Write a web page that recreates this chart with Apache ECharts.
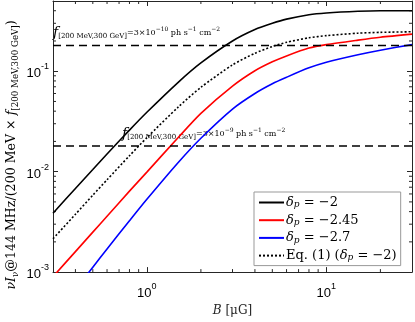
<!DOCTYPE html>
<html lang="en">
<head>
<meta charset="UTF-8">
<title>B field scan</title>
<script src="https://cdn.jsdelivr.net/npm/echarts@6/dist/echarts.min.js"></script>
<style>html,body{margin:0;padding:0;background:#fff}</style>
</head>
<body>
<div id="box" style="width:415px;height:322px"></div>
<script>
// magnetic field samples (muG)
var bField = [0.3, 0.4, 0.5, 0.6, 0.8, 1, 1.5, 2, 3, 4, 5, 6, 8, 10, 15, 20, 30];
// nu I_nu @144MHz / (200 MeV x f)
var dp20  = [0.00386, 0.0068, 0.0105, 0.015, 0.0259, 0.039, 0.078, 0.121, 0.20, 0.26, 0.30, 0.33, 0.365, 0.38, 0.395, 0.40, 0.40];
var dp245 = [0.0009, 0.0016, 0.0025, 0.0036, 0.0064, 0.0099, 0.022, 0.038, 0.071, 0.101, 0.124, 0.142, 0.170, 0.184, 0.204, 0.218, 0.234];
var dp27  = [0.00035, 0.00067, 0.00112, 0.0017, 0.00324, 0.0053, 0.0124, 0.0215, 0.042, 0.060, 0.075, 0.087, 0.108, 0.123, 0.146, 0.162, 0.184];
var eq1   = [0.00215, 0.00376, 0.00583, 0.0083, 0.0144, 0.0218, 0.0442, 0.0691, 0.1156, 0.151, 0.176, 0.194, 0.215, 0.226, 0.239, 0.2436, 0.247];
// flux levels of the dashed lines
var fluxLevels = [0.18, 0.018];
var seriesNames = ['δp = −2', 'δp = −2.45', 'δp = −2.7', 'Eq. (1) (δp = −2)'];
// minor tick positions
var xMinor = [0.4, 0.5, 0.6, 0.7, 0.8, 0.9, 2, 3, 4, 5, 6, 7, 8, 9, 20];
var yMinor = [0.002, 0.003, 0.004, 0.005, 0.006, 0.007, 0.008, 0.009,
              0.02, 0.03, 0.04, 0.05, 0.06, 0.07, 0.08, 0.09, 0.2, 0.3, 0.4];

var xMin = 0.3, xMax = 30, yMin = 0.001, yMax = 0.5;
var axisCol = '#262626';
var serif = 'DejaVu Serif';

function pairs(arr) {
    return bField.map(function (b, i) { return [b, arr[i]]; });
}

function powLabel(v) {
    var e = Math.log10(v), r = Math.round(e);
    if (Math.abs(e - r) > 1e-6) return '';
    return '{b|10}{s|' + r + '}';
}
var powRich = {
    b: {fontFamily: 'Liberation Sans', fontSize: 13, lineHeight: 18, verticalAlign: 'bottom', color: '#000'},
    s: {fontFamily: 'Liberation Sans', fontSize: 9, lineHeight: 10, verticalAlign: 'top', color: '#000'}
};

var legendRich = {
    d: {fontFamily: serif, fontStyle: 'italic', fontSize: 13, lineHeight: 14, verticalAlign: 'middle'},
    p: {fontFamily: serif, fontStyle: 'italic', fontSize: 9, lineHeight: 6, verticalAlign: 'bottom'},
    t: {fontFamily: serif, fontSize: 13, lineHeight: 14, verticalAlign: 'middle'}
};
var legendText = {};
legendText[seriesNames[0]] = '{d|δ}{p|p}{t| = −2}';
legendText[seriesNames[1]] = '{d|δ}{p|p}{t| = −2.45}';
legendText[seriesNames[2]] = '{d|δ}{p|p}{t| = −2.7}';
legendText[seriesNames[3]] = '{t|Eq. (1) (}{d|δ}{p|p}{t| = −2)}';

var annRich = {
    f: {fontFamily: serif, fontStyle: 'italic', fontSize: 14, lineHeight: 14, verticalAlign: 'middle'},
    sub: {fontFamily: serif, fontSize: 7, lineHeight: 6, verticalAlign: 'bottom'},
    t: {fontFamily: serif, fontSize: 8, lineHeight: 14, verticalAlign: 'middle'},
    sup: {fontFamily: serif, fontSize: 6, lineHeight: 8, verticalAlign: 'top'}
};
function annText(exp) {
    return '{f|f}{sub|[200 MeV,300 GeV]}{t|=3×10}{sup|−' + exp + '}{t| ph s}{sup|−1}{t| cm}{sup|−2}';
}

var chart = echarts.init(document.getElementById('box'));

var minorData = xMinor.map(function (v) { return [v, yMin, 0]; })
    .concat(yMinor.map(function (v) { return [xMin, v, 1]; }));

function lineSeries(name, arr, color, type) {
    return {
        name: name,
        type: 'line',
        data: pairs(arr),
        symbol: 'none',
        smooth: 0.25,
        lineStyle: {color: color, width: 1.6, type: type || 'solid'},
        itemStyle: {color: color}
    };
}

// dashed flux levels, drawn as plain two-point lines
var levelSeries = fluxLevels.map(function (v) {
    return {
        type: 'line',
        data: [[xMin, v], [xMax, v]],
        symbol: 'none',
        silent: true,
        lineStyle: {color: '#000', width: 1.6, type: [8, 5]}
    };
});

chart.setOption({
    animation: false,
    grid: {left: 53, right: 2, top: 1, bottom: 46},
    legend: {
        data: seriesNames,
        orient: 'vertical',
        left: 254,
        top: 192,
        itemWidth: 25,
        itemHeight: 14,
        itemGap: 4.2,
        itemStyle: {opacity: 0},
        padding: [4, 4, 3, 4],
        borderColor: '#999',
        borderWidth: 1,
        backgroundColor: '#fff',
        textStyle: {color: '#000', rich: legendRich, padding: [0, 0, 0, -3]},
        formatter: function (n) { return legendText[n]; }
    },
    xAxis: [{
        type: 'log', min: xMin, max: xMax,
        name: '{i|B}{r| [μG]}', nameLocation: 'middle', nameGap: 30,
        nameTextStyle: {rich: {
            i: {fontFamily: serif, fontStyle: 'italic', fontSize: 12},
            r: {fontFamily: serif, fontSize: 12}
        }},
        axisLine: {lineStyle: {color: axisCol}},
        axisTick: {inside: true, length: 5, lineStyle: {color: axisCol}},
        axisLabel: {formatter: powLabel, rich: powRich, margin: 10},
        splitLine: {show: false}
    }, {
        type: 'log', min: xMin, max: xMax, position: 'top',
        axisLine: {lineStyle: {color: axisCol}},
        axisTick: {inside: true, length: 5, lineStyle: {color: axisCol}},
        axisLabel: {show: false},
        splitLine: {show: false}
    }],
    yAxis: [{
        type: 'log', min: yMin, max: yMax,
        axisLine: {show: true, lineStyle: {color: axisCol}},
        axisTick: {show: true, inside: true, length: 5, lineStyle: {color: axisCol}},
        axisLabel: {formatter: powLabel, rich: powRich, margin: 4},
        splitLine: {show: false}
    }, {
        type: 'log', min: yMin, max: yMax, position: 'right',
        axisLine: {show: true, lineStyle: {color: axisCol}},
        axisTick: {show: true, inside: true, length: 5, lineStyle: {color: axisCol}},
        axisLabel: {show: false},
        splitLine: {show: false}
    }],
    graphic: [{
        type: 'text', x: 12, y: 155, rotation: Math.PI / 2,
        style: {
            text: '{i|νI}{s|ν}{r|@144 MHz/(200 MeV × }{i|f}{s|[200 MeV,300 GeV]}{r|)}',
            align: 'center', verticalAlign: 'middle', fill: '#000',
            rich: {
                i: {fontFamily: serif, fontStyle: 'italic', fontSize: 12.6, lineHeight: 16, verticalAlign: 'middle'},
                r: {fontFamily: serif, fontSize: 12.6, lineHeight: 16, verticalAlign: 'middle'},
                s: {fontFamily: serif, fontSize: 8.7, lineHeight: 8, verticalAlign: 'bottom'}
            }
        }
    }, {
        type: 'text', x: 53, y: 33,
        style: {text: annText(10), align: 'left', verticalAlign: 'middle', fill: '#000', rich: annRich}
    }, {
        type: 'text', x: 122, y: 134,
        style: {text: annText(9), align: 'left', verticalAlign: 'middle', fill: '#000', rich: annRich}
    }],
    series: [
        lineSeries(seriesNames[0], dp20, '#000'),
        lineSeries(seriesNames[1], dp245, '#ff0000'),
        lineSeries(seriesNames[2], dp27, '#0000ff'),
        lineSeries(seriesNames[3], eq1, '#000', [2, 2]),
        levelSeries[0],
        levelSeries[1],
        {
            type: 'custom',
            silent: true,
            clip: false,
            data: minorData,
            encode: {x: 0, y: 1},
            renderItem: function (params, api) {
                var kind = api.value(2);
                var st = {stroke: axisCol, lineWidth: 1};
                if (kind === 0) {
                    var v = api.value(0);
                    var pb = api.coord([v, yMin]), pt = api.coord([v, yMax]);
                    return {type: 'group', children: [
                        {type: 'line', shape: {x1: pb[0], y1: pb[1], x2: pb[0], y2: pb[1] - 3}, style: st},
                        {type: 'line', shape: {x1: pt[0], y1: pt[1], x2: pt[0], y2: pt[1] + 3}, style: st}
                    ]};
                }
                var w = api.value(1);
                var pl = api.coord([xMin, w]), pr = api.coord([xMax, w]);
                return {type: 'group', children: [
                    {type: 'line', shape: {x1: pl[0], y1: pl[1], x2: pl[0] + 3, y2: pl[1]}, style: st},
                    {type: 'line', shape: {x1: pr[0], y1: pr[1], x2: pr[0] - 3, y2: pr[1]}, style: st}
                ]};
            }
        }
    ]
});
</script>
</body>
</html>
